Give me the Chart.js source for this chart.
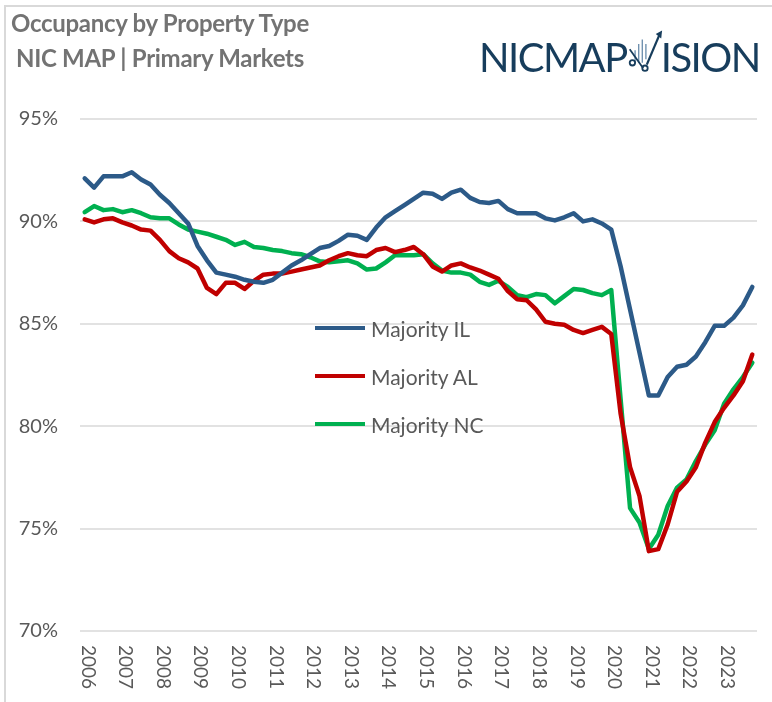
<!DOCTYPE html>
<html>
<head>
<meta charset="utf-8">
<script src="https://cdn.jsdelivr.net/npm/chart.js@4.4.1/dist/chart.umd.min.js"></script>
<style>
  body { margin: 0; background: #fff; }
  #wrap { position: relative; width: 772px; height: 702px; overflow: hidden; }
  #frame { position: absolute; left: 4px; top: 5px; width: 780px; height: 710px; border: 2px solid #d9d9d9; box-sizing: border-box; }
  #c { position: absolute; left: 0; top: 0; }
  .title { position: absolute; left: 11px; font-family: Lato, sans-serif; font-weight: bold; color: #737373; font-size: 24px; letter-spacing: -0.3px; white-space: nowrap; }
  #logo { position: absolute; left: 479px; top: 28px; font-family: Lato, sans-serif; font-weight: 400; color: #173d5c; font-size: 40px; white-space: nowrap; letter-spacing: -1.5px; }
  #logo svg { vertical-align: -4px; margin-right: -2px; }
  #legend { position: absolute; left: 315px; top: 304px; font-family: Lato, sans-serif; font-size: 21px; color: #595959; }
  #legend div { height: 48px; display: flex; align-items: center; }
  #legend span.ln { display: inline-block; width: 50px; height: 4px; margin-right: 6px; }
</style>
</head>
<body>
<div id="wrap">
  <div id="frame"></div>
  <canvas id="c" width="772" height="702"></canvas>
  <div class="title" style="top:8px">Occupancy by Property Type</div>
  <div class="title" style="top:43px;left:16px">NIC MAP | Primary Markets</div>
  <div id="logo">NICMAP<svg width="36" height="48" viewBox="0 0 40 48">
    <line x1="22" y1="38" x2="36" y2="5" stroke="#173d5c" stroke-width="2.5"/>
    <polygon points="32,4 39,0 38,9" fill="#173d5c"/>
    <line x1="9" y1="22" x2="9" y2="36" stroke="#6d8fae" stroke-width="1.5"/>
    <line x1="13" y1="15" x2="13" y2="36" stroke="#6d8fae" stroke-width="1.5"/>
    <line x1="17" y1="10" x2="17" y2="36" stroke="#6d8fae" stroke-width="1.5"/>
    <line x1="21" y1="15" x2="21" y2="32" stroke="#6d8fae" stroke-width="1.5"/>
    <circle cx="6" cy="36" r="3" fill="none" stroke="#173d5c" stroke-width="2"/>
    <circle cx="20" cy="42" r="3" fill="none" stroke="#173d5c" stroke-width="2"/>
    <line x1="3" y1="21" x2="18" y2="42" stroke="#173d5c" stroke-width="2"/>
  </svg>ISION</div>
  <div id="legend"></div>
</div>
<script>
// quarterly data, 2006 Q1 - 2023 Q4
const years = ['2006','2007','2008','2009','2010','2011','2012','2013','2014','2015','2016','2017','2018','2019','2020','2021','2022','2023'];
const seriesNames = ['Majority IL', 'Majority AL', 'Majority NC'];

const majorityIL = [
  92.1, 91.65, 92.2, 92.2, 92.2, 92.4, 92.05, 91.8,
  91.3, 90.9, 90.4, 89.9, 88.8, 88.1, 87.5, 87.4,
  87.3, 87.15, 87.05, 87.0, 87.15, 87.5, 87.85, 88.1,
  88.4, 88.7, 88.8, 89.05, 89.35, 89.3, 89.1, 89.7,
  90.2, 90.5, 90.8, 91.1, 91.4, 91.35, 91.1, 91.4,
  91.55, 91.15, 90.95, 90.9, 91.0, 90.6, 90.4, 90.4,
  90.4, 90.15, 90.05, 90.2, 90.4, 90.0, 90.1, 89.9,
  89.6, 87.8, 85.7, 83.6, 81.5, 81.5, 82.4, 82.9,
  83.0, 83.4, 84.1, 84.9, 84.9, 85.3, 85.9, 86.8
];
const majorityAL = [
  90.1, 89.95, 90.1, 90.15, 89.95, 89.8, 89.6, 89.55,
  89.1, 88.55, 88.2, 88.0, 87.7, 86.75, 86.45, 87.0,
  87.0, 86.7, 87.1, 87.4, 87.45, 87.45, 87.55, 87.65,
  87.75, 87.85, 88.1, 88.3, 88.45, 88.35, 88.3, 88.6,
  88.7, 88.5, 88.6, 88.75, 88.4, 87.8, 87.55, 87.85,
  87.95, 87.75, 87.6, 87.4, 87.2, 86.6, 86.2, 86.15,
  85.7, 85.1, 85.0, 84.95, 84.7, 84.55, 84.7, 84.85,
  84.5, 80.6, 78.0, 76.6, 73.9, 74.0, 75.2, 76.8,
  77.3, 78.0, 79.2, 80.2, 80.9, 81.5, 82.2, 83.5
];
const majorityNC = [
  90.45, 90.75, 90.55, 90.6, 90.45, 90.55, 90.4, 90.2,
  90.15, 90.15, 89.85, 89.6, 89.5, 89.4, 89.25, 89.1,
  88.85, 89.0, 88.75, 88.7, 88.6, 88.55, 88.45, 88.4,
  88.25, 88.05, 88.0, 88.05, 88.1, 87.95, 87.65, 87.7,
  88.0, 88.35, 88.35, 88.35, 88.4, 87.95, 87.6, 87.5,
  87.5, 87.4, 87.05, 86.9, 87.1, 86.8, 86.4, 86.3,
  86.45, 86.4, 86.0, 86.35, 86.7, 86.65, 86.5, 86.4,
  86.65, 81.3, 76.0, 75.3, 74.0, 74.7, 76.1, 77.0,
  77.4, 78.3, 79.1, 79.8, 81.1, 81.8, 82.4, 83.1
];
const yTicks = [70, 75, 80, 85, 90, 95];
const colors = ['#2c5a88', '#c00000', '#00b050'];

const quarters = [];
years.forEach(y => { for (let q = 1; q <= 4; q++) quarters.push(y + ' Q' + q); });

// x labels in the reference read top-to-bottom, so draw them ourselves
const yearLabels = {
  id: 'yearLabels',
  afterDraw(chart) {
    const { ctx, scales: { x } } = chart;
    ctx.save();
    ctx.font = '19px Lato';
    ctx.fillStyle = '#595959';
    ctx.textAlign = 'left';
    ctx.textBaseline = 'middle';
    years.forEach((y, i) => {
      const px = x.getPixelForValue(i * 4);
      ctx.save();
      ctx.translate(px + 3, chart.chartArea.bottom + 14);
      ctx.rotate(Math.PI / 2);
      ctx.fillText(y, 0, 0);
      ctx.restore();
    });
    ctx.restore();
  }
};

const data = [majorityIL, majorityAL, majorityNC];
const chart = new Chart(document.getElementById('c'), {
  type: 'line',
  data: {
    labels: quarters,
    datasets: seriesNames.map((name, i) => ({
      label: name,
      data: data[i],
      borderColor: colors[i],
      backgroundColor: colors[i],
      borderWidth: 4.5,
      pointRadius: 0,
      tension: 0,
      borderJoinStyle: 'round',
      borderCapStyle: 'round'
    }))
  },
  options: {
    responsive: false,
    devicePixelRatio: 1,
    animation: false,
    layout: { padding: { left: 0, right: 15, top: 119, bottom: 71 } },
    plugins: { legend: { display: false }, tooltip: { enabled: false } },
    scales: {
      x: {
        offset: true,
        grid: { display: false },
        border: { display: false },
        ticks: { display: false },
        afterFit(s) { s.height = 0; }
      },
      y: {
        min: 70, max: 95,
        afterFit(s) { s.width = 80; },
        afterBuildTicks(s) { s.ticks = yTicks.map(v => ({ value: v })); },
        grid: { color: '#e2e2e2', lineWidth: 2, drawTicks: false },
        border: { display: false },
        ticks: {
          padding: 22,
          color: '#595959',
          font: { family: 'Lato', size: 20 },
          callback: v => v + '%'
        }
      }
    }
  },
  plugins: [yearLabels]
});

// legend built from the datasets
const leg = document.getElementById('legend');
chart.data.datasets.forEach(ds => {
  const row = document.createElement('div');
  row.innerHTML = '<span class="ln" style="background:' + ds.borderColor + '"></span>' + ds.label;
  leg.appendChild(row);
});
</script>
</body>
</html>
